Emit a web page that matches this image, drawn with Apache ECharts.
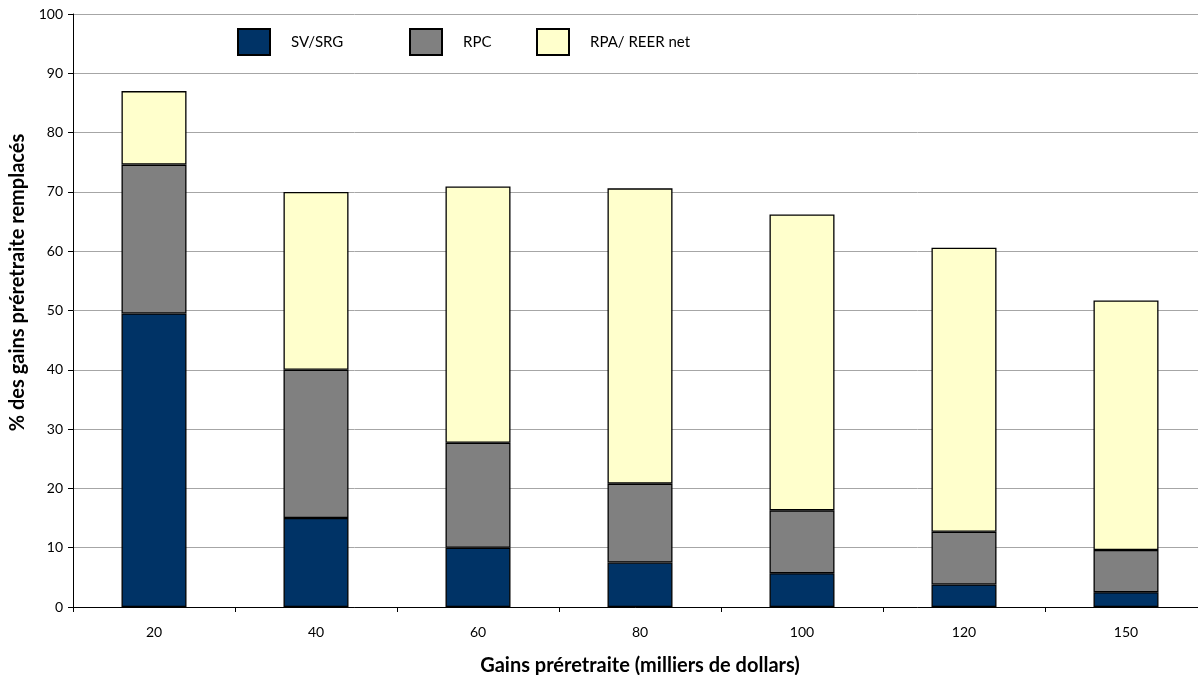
<!DOCTYPE html>
<html>
<head>
<meta charset="utf-8">
<script src="https://cdn.jsdelivr.net/npm/echarts@6/dist/echarts.min.js"></script>
<style>html,body{margin:0;padding:0;background:#fff;overflow:hidden}#c{width:1198px;height:675px}</style>
</head>
<body>
<div id="c"></div>
<script>
const categories = ['20', '40', '60', '80', '100', '120', '150'];
const svSrg = [49.5, 15.0, 10.0, 7.5, 5.7, 3.8, 2.5];
const rpc = [25.1, 25.0, 17.7, 13.3, 10.6, 8.9, 7.1];
const rpaReer = [12.4, 30.0, 43.2, 49.8, 49.9, 47.9, 42.1];
const yTicks = [0, 10, 20, 30, 40, 50, 60, 70, 80, 90, 100];

const FONT = 'Lato';
const chart = echarts.init(document.getElementById('c'), null, {renderer: 'canvas'});
const legendBase = {
  top: 28, padding: 0, itemWidth: 32, itemHeight: 26, itemGap: 0,
  formatter: (n) => '{t|' + n + '}',
  textStyle: {fontFamily: FONT, fontSize: 15, color: '#000',
    rich: {t: {fontFamily: FONT, fontSize: 15, color: '#000', padding: [0, 0, 0, 16]}}},
  icon: 'rect', selectedMode: false
};
const barItem = (c) => ({color: c, borderColor: '#000', borderWidth: 1.3});
chart.setOption({
  animation: false,
  backgroundColor: '#fff',
  textStyle: {fontFamily: FONT},
  legend: [
    Object.assign({}, legendBase, {left: 237, data: ['SV/SRG']}),
    Object.assign({}, legendBase, {left: 409, data: ['RPC']}),
    Object.assign({}, legendBase, {left: 536, data: ['RPA/ REER net']})
  ],
  grid: {left: 73, right: -9, top: 14, bottom: 68, containLabel: false, outerBoundsMode: 'none'},
  xAxis: {
    type: 'category', data: categories,
    name: 'Gains préretraite (milliers de dollars)', nameLocation: 'middle', nameGap: 49,
    nameTextStyle: {fontFamily: FONT, fontWeight: 'bold', fontSize: 20, color: '#000'},
    axisLine: {lineStyle: {color: '#000', width: 1}},
    axisTick: {show: true, length: 5, lineStyle: {color: '#000'}},
    axisLabel: {fontFamily: FONT, fontSize: 14, color: '#000', margin: 18}
  },
  yAxis: {
    type: 'value', min: 0, max: 100, interval: 10,
    name: '% des gains préretraite remplacés', nameLocation: 'middle', nameGap: 41, nameRotate: 90,
    nameTextStyle: {fontFamily: FONT, fontWeight: 'bold', fontSize: 20, color: '#000',
      padding: [0, 0, 0, 56]},
    axisLine: {show: true, lineStyle: {color: '#000', width: 1}},
    axisTick: {show: true, length: 5, lineStyle: {color: '#000'}},
    axisLabel: {fontFamily: FONT, fontSize: 14, color: '#000', margin: 10,
      formatter: (v) => yTicks.includes(v) ? String(v) : ''},
    splitLine: {show: true, lineStyle: {color: '#a6a6a6', width: 1}}
  },
  series: [
    {name: 'SV/SRG', type: 'bar', stack: 't', data: svSrg, barWidth: 65, itemStyle: barItem('#003366')},
    {name: 'RPC', type: 'bar', stack: 't', data: rpc, barWidth: 65, itemStyle: barItem('#808080')},
    {name: 'RPA/ REER net', type: 'bar', stack: 't', data: rpaReer, barWidth: 65, itemStyle: barItem('#FFFFCC')}
  ]
});
</script>
</body>
</html>
